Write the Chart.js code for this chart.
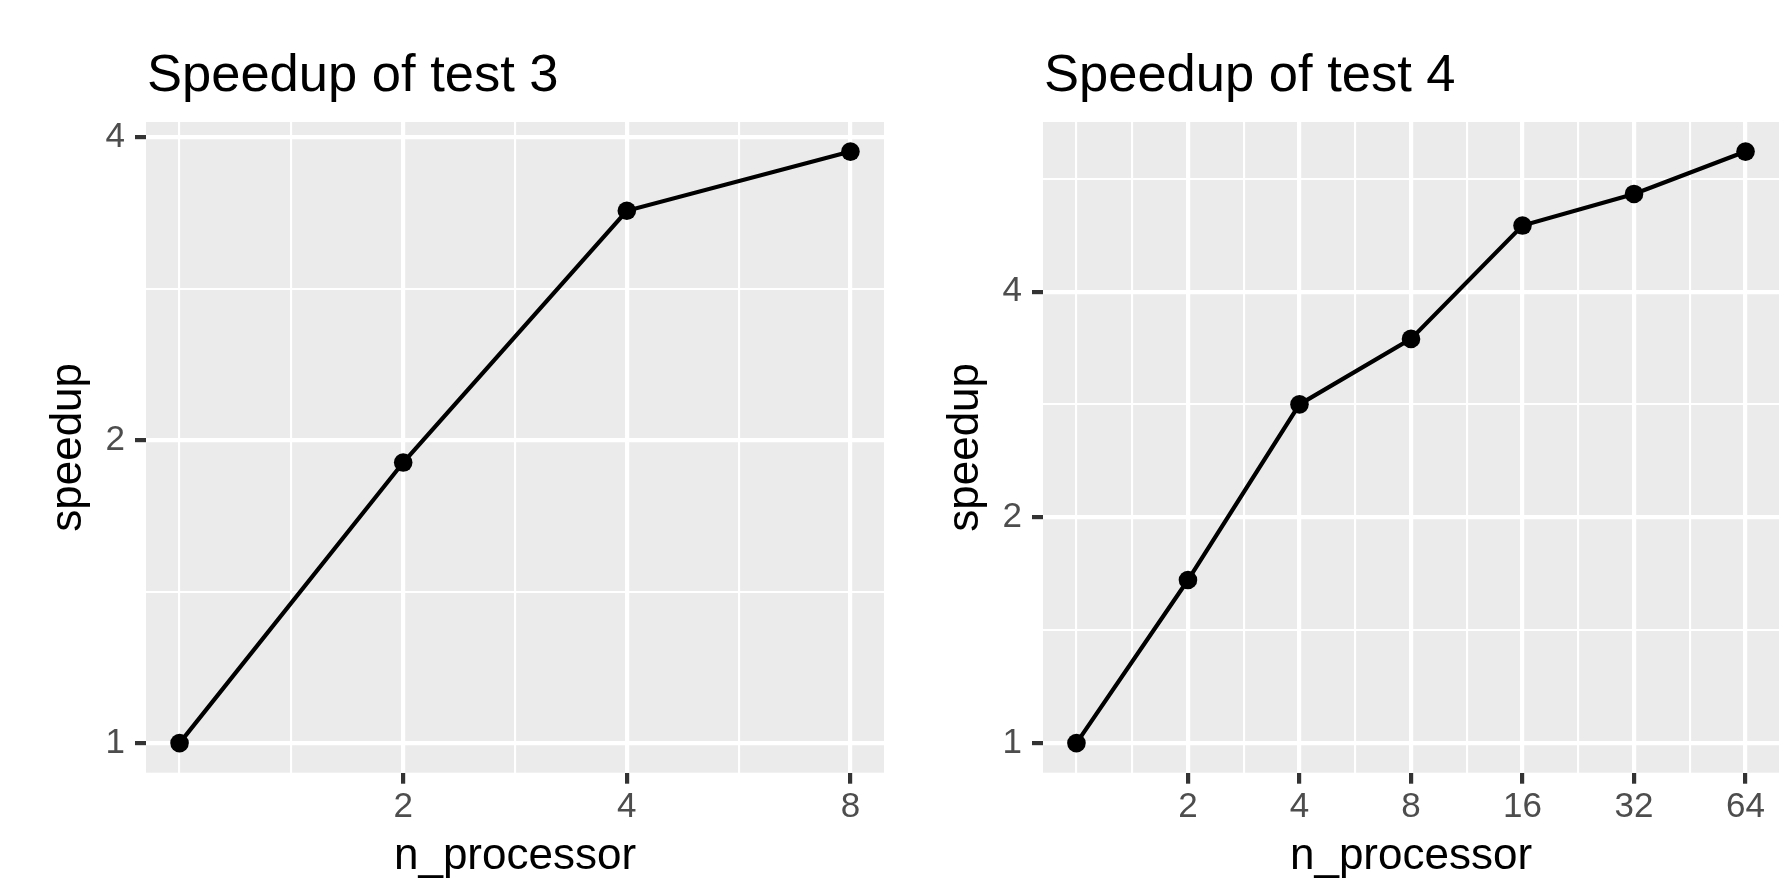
<!DOCTYPE html>
<html>
<head>
<meta charset="utf-8">
<script src="https://cdn.jsdelivr.net/npm/chart.js@4/dist/chart.umd.min.js"></script>
<style>
    html, body { margin: 0; padding: 0; background: #fff; }
    body { width: 1779px; height: 882px; position: relative; overflow: hidden; }
    canvas { position: absolute; top: 0; }
    #test3 { left: 0; }
    #test4 { left: 890px; }
</style>
</head>
<body>
<canvas id="test3" width="890" height="882"></canvas>
<canvas id="test4" width="889" height="882"></canvas>
<script>
/* Values */
let nProc3 = [1, 2, 4, 8]
let speedup3 = [1, 1.90, 3.38, 3.87]

let nProc4 = [1, 2, 4, 8, 16, 32, 64]
let speedup4 = [1, 1.65, 2.83, 3.46, 4.90, 5.40, 6.15]

/* Labelled breaks (both axes are log2) */
let xBreaks3 = [2, 4, 8]
let xBreaks4 = [2, 4, 8, 16, 32, 64]
let yBreaks = [1, 2, 4]

let fontFamily = "'Liberation Sans', Arial, Helvetica, sans-serif"

// ggplot style: 5% expansion of the range, done in log2 space
function expandedLimits(values) {
    let lo = Math.log2(Math.min(...values))
    let hi = Math.log2(Math.max(...values))
    let pad = (hi - lo) * 0.05
    return [Math.pow(2, lo - pad), Math.pow(2, hi + pad)]
}

// minor breaks half way between the majors, skipping the majors themselves
function minorBreaks(breaks, limits) {
    let b = breaks.map(Math.log2)
    let step = b[1] - b[0]
    let lo = Math.log2(limits[0])
    let hi = Math.log2(limits[1])
    let out = []
    for (let v = b[0] - step; v <= hi + 1e-9; v += step / 2) {
        if (v < lo) continue
        if (b.some(m => Math.abs(m - v) < 1e-9)) continue
        out.push(Math.pow(2, v))
    }
    return out
}

// grey panel behind the grid, and the left aligned plot title
let ggPanel = {
    id: 'ggPanel',
    beforeDraw(chart) {
        let a = chart.chartArea
        let ctx = chart.ctx
        ctx.save()
        ctx.fillStyle = '#EBEBEB'
        ctx.fillRect(a.left, a.top, a.right - a.left, a.bottom - a.top)
        ctx.restore()
    },
    afterDraw(chart, args, opts) {
        let ctx = chart.ctx
        ctx.save()
        ctx.font = '52.5px ' + fontFamily
        ctx.fillStyle = '#000'
        ctx.textBaseline = 'alphabetic'
        ctx.textAlign = 'left'
        ctx.fillText(opts.text, chart.chartArea.left + 1, 91)
        ctx.restore()
    }
}

function makePanel(canvasId, title, xs, ys, xBreaks, axisWidth, rightPad, yTitlePad) {
    let xLim = expandedLimits(xs)
    let yLim = expandedLimits(ys)
    let xTicks = xBreaks.concat(minorBreaks(xBreaks, xLim)).sort((a, b) => a - b)
    let yTicks = yBreaks.concat(minorBreaks(yBreaks, yLim)).sort((a, b) => a - b)

    let isMajorX = v => xBreaks.some(m => Math.abs(m - v) < 1e-9)
    let isMajorY = v => yBreaks.some(m => Math.abs(m - v) < 1e-9)

    let ctx = document.querySelector('#' + canvasId).getContext('2d')

    return new Chart(ctx, {
        type: 'line',
        data: {
            datasets: [{
                data: xs.map((x, i) => ({ x: x, y: ys[i] })),
                borderColor: '#000',
                borderWidth: 4.2,
                pointRadius: 9.3,
                pointHoverRadius: 9.3,
                pointBackgroundColor: '#000',
                pointBorderWidth: 0,
                tension: 0,
                fill: false
            }]
        },
        options: {
            responsive: false,
            animation: false,
            devicePixelRatio: 1,
            events: [],
            // no extra room for the point radius, the panel size is fixed
            layout: { autoPadding: false, padding: { top: 122, right: rightPad, bottom: 0, left: 0 } },
            plugins: {
                legend: { display: false },
                tooltip: { enabled: false },
                ggPanel: { text: title }
            },
            scales: {
                x: {
                    type: 'logarithmic',
                    position: 'bottom',
                    min: xLim[0],
                    max: xLim[1],
                    bounds: 'data',
                    afterBuildTicks: scale => { scale.ticks = xTicks.map(v => ({ value: v })) },
                    afterFit: scale => { scale.height = 882 - 772.7 },
                    border: { display: false },
                    grid: {
                        color: '#FFFFFF',
                        lineWidth: c => isMajorX(c.tick.value) ? 4.2 : 2.1,
                        tickColor: c => isMajorX(c.tick.value) ? '#333333' : 'rgba(0,0,0,0)',
                        tickWidth: 4.2,
                        tickLength: 11
                    },
                    ticks: {
                        autoSkip: false,
                        maxRotation: 0,
                        minRotation: 0,
                        padding: 2.5,
                        color: '#4D4D4D',
                        font: { family: fontFamily, size: 35 },
                        callback: v => isMajorX(v) ? String(v) : ''
                    },
                    title: {
                        display: true,
                        text: 'n_processor',
                        color: '#000',
                        font: { family: fontFamily, size: 44, lineHeight: 1.16 },
                        padding: { top: 0, bottom: 0 }
                    }
                },
                y: {
                    type: 'logarithmic',
                    position: 'left',
                    min: yLim[0],
                    max: yLim[1],
                    bounds: 'data',
                    afterBuildTicks: scale => { scale.ticks = yTicks.map(v => ({ value: v })) },
                    afterFit: scale => { scale.width = axisWidth },
                    border: { display: false },
                    grid: {
                        color: '#FFFFFF',
                        lineWidth: c => isMajorY(c.tick.value) ? 4.2 : 2.1,
                        tickColor: c => isMajorY(c.tick.value) ? '#333333' : 'rgba(0,0,0,0)',
                        tickWidth: 4.2,
                        tickLength: 11
                    },
                    ticks: {
                        autoSkip: false,
                        padding: 10,
                        color: '#4D4D4D',
                        font: { family: fontFamily, size: 35 },
                        callback: v => isMajorY(v) ? String(v) : ''
                    },
                    title: {
                        display: true,
                        text: 'speedup',
                        color: '#000',
                        font: { family: fontFamily, size: 44, lineHeight: 1.16 },
                        padding: { top: yTitlePad, bottom: 0 }
                    }
                }
            }
        },
        plugins: [ggPanel]
    })
}

makePanel('test3', 'Speedup of test 3', nProc3, speedup3, xBreaks3, 146, 6, 43.3)
makePanel('test4', 'Speedup of test 4', nProc4, speedup4, xBreaks4, 153, 0, 50.3)
</script>
</body>
</html>
